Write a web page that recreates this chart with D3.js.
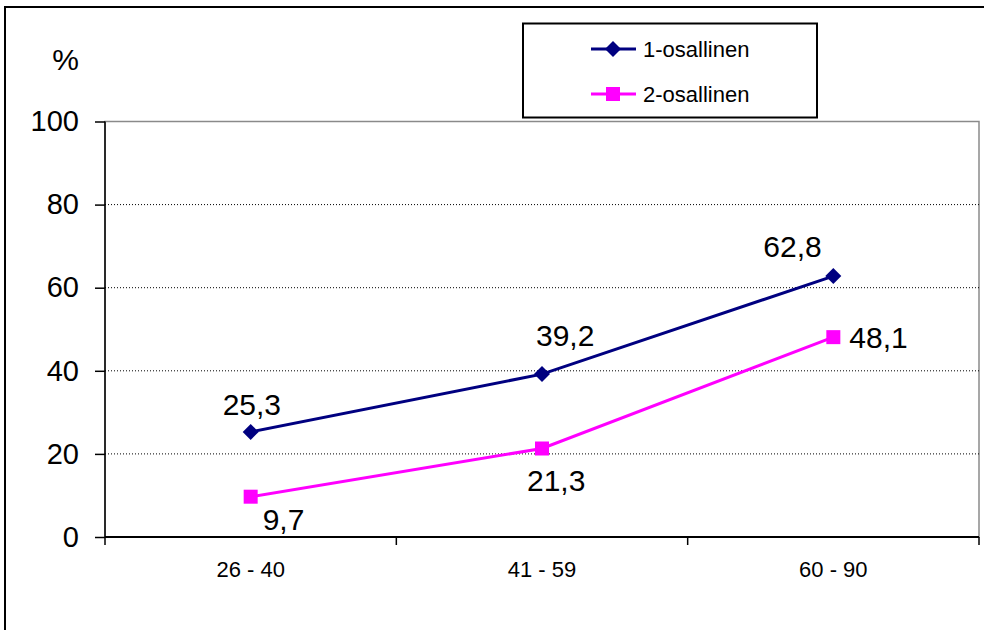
<!DOCTYPE html>
<html>
<head>
<meta charset="utf-8">
<script src="https://cdn.jsdelivr.net/npm/d3@7"></script>
<style>
  html, body { margin: 0; padding: 0; background: #fff; }
  svg { display: block; font-family: Arial, "Liberation Sans", sans-serif; }
</style>
</head>
<body>
<svg id="chart" width="984" height="630"></svg>
<script>
// Age groups and shares (%) for the two series
const categories = ["26 - 40", "41 - 59", "60 - 90"];
const seriesNames = ["1-osallinen", "2-osallinen"];
const values1 = [25.3, 39.2, 62.8];
const values2 = [9.7, 21.3, 48.1];
const yTicks = [0, 20, 40, 60, 80, 100];

// Label placement relative to each point (dx, dy to text baseline start)
const labelOffsets1 = [[-28, -17], [-6, -28], [-70, -19]];
const labelOffsets2 = [[12, 33], [-15, 43], [16, 11]];

const fmt = v => String(v).replace(".", ",");

const svg = d3.select("#chart");
const plot = { left: 105, right: 979, top: 121.5, bottom: 537 };

// Outer frame
svg.append("rect")
  .attr("x", 5).attr("y", 7).attr("width", 1000).attr("height", 700)
  .attr("fill", "none").attr("stroke", "#000").attr("stroke-width", 2);

const x = d3.scaleBand().domain(categories).range([plot.left, plot.right]);
const y = d3.scaleLinear().domain([0, 100]).range([plot.bottom, plot.top]);

// Plot area border (grey)
svg.append("rect")
  .attr("x", plot.left).attr("y", plot.top)
  .attr("width", plot.right - plot.left).attr("height", plot.bottom - plot.top)
  .attr("fill", "none").attr("stroke", "#8a8a8a").attr("stroke-width", 1.5);

// Dotted gridlines
svg.append("g").selectAll("line")
  .data(yTicks.filter(t => t > 0 && t < 100))
  .join("line")
  .attr("x1", plot.left).attr("x2", plot.right)
  .attr("y1", d => y(d)).attr("y2", d => y(d))
  .attr("stroke", "#000").attr("stroke-width", 1)
  .attr("stroke-dasharray", "1,2");

// Y axis
const yAxis = svg.append("g")
  .attr("transform", `translate(${plot.left},0)`)
  .call(d3.axisLeft(y).tickValues(yTicks).tickSize(10).tickPadding(16));
yAxis.select(".domain").attr("stroke", "#000").attr("stroke-width", 1.5).attr("d", `M0,${plot.top}V${plot.bottom}`);
yAxis.selectAll(".tick line").attr("stroke", "#000").attr("stroke-width", 1.5);
yAxis.selectAll(".tick text")
  .attr("font-size", 29).attr("fill", "#000")
  .attr("font-family", "Arial, 'Liberation Sans', sans-serif");

// X axis with ticks at category boundaries
const xAxis = svg.append("g")
  .attr("transform", `translate(0,${plot.bottom})`)
  .call(d3.axisBottom(x).tickSize(0).tickPadding(24));
xAxis.select(".domain").attr("stroke", "#000").attr("stroke-width", 2).attr("d", `M${plot.left},0H${plot.right}`);
xAxis.selectAll(".tick text")
  .attr("font-size", 22).attr("fill", "#000")
  .attr("font-family", "Arial, 'Liberation Sans', sans-serif");
const bounds = categories.map(c => x(c)).concat([x(categories[categories.length - 1]) + x.bandwidth()]);
xAxis.append("g").selectAll("line")
  .data(bounds)
  .join("line")
  .attr("x1", d => d).attr("x2", d => d)
  .attr("y1", 0).attr("y2", 8)
  .attr("stroke", "#000").attr("stroke-width", 1.5);

// Unit label
svg.append("text")
  .attr("x", 79).attr("y", 70)
  .attr("text-anchor", "end")
  .attr("font-size", 30)
  .text("%");

const cx = c => x(c) + x.bandwidth() / 2;
const line = d3.line().x(d => cx(d.cat)).y(d => y(d.v));

const series = [
  { name: seriesNames[0], values: values1, color: "#000080", shape: "diamond", offsets: labelOffsets1 },
  { name: seriesNames[1], values: values2, color: "#ff00ff", shape: "square", offsets: labelOffsets2 }
];

function marker(g, shape, color) {
  if (shape === "diamond") {
    g.append("path").attr("d", "M0,-8L8,0L0,8L-8,0Z").attr("fill", color);
  } else {
    g.append("rect").attr("x", -7).attr("y", -7).attr("width", 14).attr("height", 14).attr("fill", color);
  }
}

series.forEach(s => {
  const pts = categories.map((c, i) => ({ cat: c, v: s.values[i] }));
  svg.append("path")
    .datum(pts)
    .attr("d", line)
    .attr("fill", "none")
    .attr("stroke", s.color)
    .attr("stroke-width", 3);

  pts.forEach((p, i) => {
    const g = svg.append("g").attr("transform", `translate(${cx(p.cat)},${y(p.v)})`);
    marker(g, s.shape, s.color);
    svg.append("text")
      .attr("x", cx(p.cat) + s.offsets[i][0])
      .attr("y", y(p.v) + s.offsets[i][1])
      .attr("font-size", 30)
      .attr("fill", "#000")
      .text(fmt(p.v));
  });
});

// Legend
const legend = svg.append("g");
legend.append("rect")
  .attr("x", 523).attr("y", 23.5).attr("width", 294).attr("height", 94)
  .attr("fill", "#fff").attr("stroke", "#000").attr("stroke-width", 2);
series.forEach((s, i) => {
  const ly = 49 + i * 45;
  legend.append("line")
    .attr("x1", 591).attr("x2", 636).attr("y1", ly).attr("y2", ly)
    .attr("stroke", s.color).attr("stroke-width", 3);
  const g = legend.append("g").attr("transform", `translate(613,${ly})`);
  marker(g, s.shape, s.color);
  legend.append("text")
    .attr("x", 643).attr("y", ly + 8)
    .attr("font-size", 22)
    .attr("fill", "#000")
    .text(s.name);
});
</script>
</body>
</html>
